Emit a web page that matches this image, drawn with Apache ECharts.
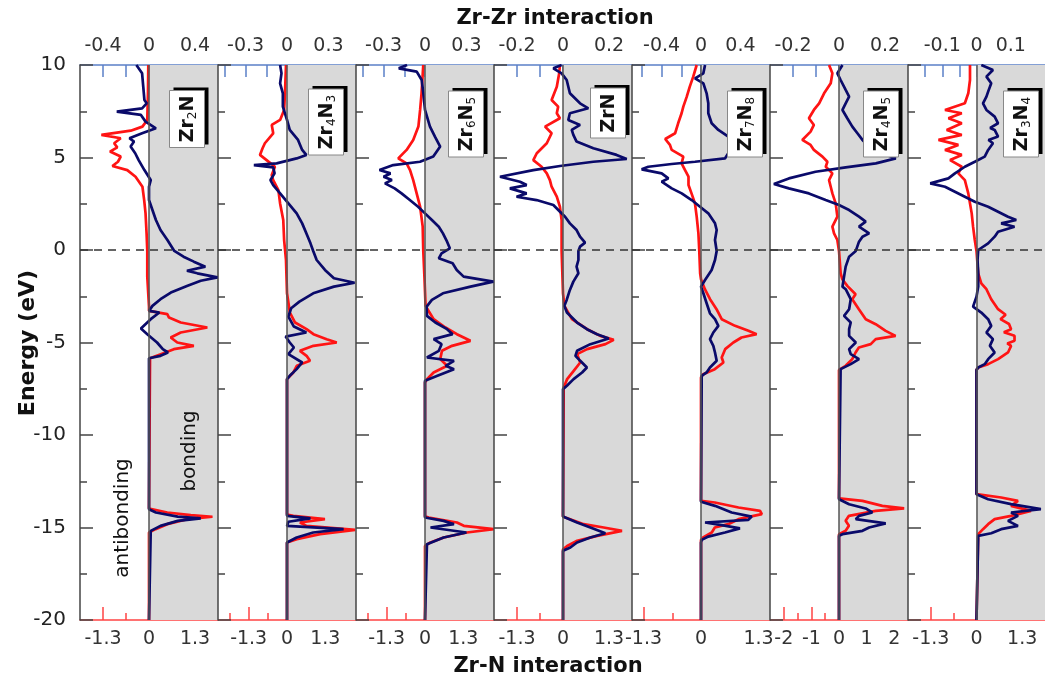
<!DOCTYPE html>
<html>
<head>
<meta charset="utf-8">
<script src="https://cdn.jsdelivr.net/npm/echarts@6/dist/echarts.min.js"></script>
<style>
html, body { margin: 0; background: #fff; }
#chart { width: 1045px; height: 680px; }
</style>
</head>
<body>
<div id="chart"></div>
<script>
// panels, left to right
var panelNames = ['{a|Zr}{s|2}{a|N}', '{a|Zr}{s|4}{a|N}{s|3}', '{a|Zr}{s|6}{a|N}{s|5}', '{a|ZrN}',
    '{a|Zr}{s|7}{a|N}{s|8}', '{a|Zr}{s|4}{a|N}{s|5}', '{a|Zr}{s|3}{a|N}{s|4}'];

// axis ranges (symmetric) and ticks
var zrZrRange = [0.6, 0.5, 0.5, 0.3, 0.7, 0.3, 0.2];
var zrNRange = [2, 2.4, 2.4, 2, 1.6, 2.5, 2];
var zrZrTicks = [
    [-0.4, -0.2, 0, 0.2, 0.4],
    [-0.45, -0.3, -0.15, 0, 0.15, 0.3, 0.45],
    [-0.45, -0.3, -0.15, 0, 0.15, 0.3, 0.45],
    [-0.2, -0.1, 0, 0.1, 0.2],
    [-0.6, -0.4, -0.2, 0, 0.2, 0.4, 0.6],
    [-0.2, -0.1, 0, 0.1, 0.2],
    [-0.15, -0.1, -0.05, 0, 0.05, 0.1, 0.15]
];
var zrZrLabels = [[-0.4, 0, 0.4], [-0.3, 0, 0.3], [-0.3, 0, 0.3], [-0.2, 0, 0.2], [-0.4, 0, 0.4], [-0.2, 0, 0.2], [-0.1, 0, 0.1]];
var zrNLabels = [
    [-4 / 3, 0, 4 / 3], [-4 / 3, 0, 4 / 3], [-4 / 3, 0, 4 / 3], [-4 / 3, 0, 4 / 3],
    [-4 / 3, 0, 4 / 3], [-2, -1, 0, 1, 2], [-4 / 3, 0, 4 / 3]
];
var zrNMinor = [
    [-2 / 3, 2 / 3], [-2, -2 / 3, 2 / 3, 2], [-2, -2 / 3, 2 / 3, 2], [-2 / 3, 2 / 3],
    [-2 / 3, 2 / 3], [-1.5, -0.5, 0.5, 1.5], [-2 / 3, 2 / 3]
];

// curves: [energy, value]
var zr2nZrZr = [[10,-0.11],[9.55,-0.06],[8.83,-0.05],[8.11,-0.04],[7.93,-0.02],[7.66,-0.06],[7.48,-0.28],[7.3,-0.07],[6.94,-0.03],[6.58,0.06],[6.31,-0.06],[6.04,-0.17],[5.86,-0.13],[5.59,-0.16],[5.23,-0.12],[4.86,-0.09],[4.32,-0.04],[3.78,0.015],[3.42,0],[2.7,0],[2.16,0.03],[1.62,0.06],[1.08,0.1],[0.54,0.16],[-0.05,0.22],[-0.36,0.3],[-0.63,0.39],[-0.9,0.49],[-1.12,0.33],[-1.26,0.42],[-1.48,0.595],[-1.66,0.45],[-1.94,0.33],[-2.3,0.19],[-2.66,0.1],[-3.02,0.03],[-3.29,0],[-3.38,0.09],[-3.74,0.015],[-4.24,-0.07],[-4.55,-0.015],[-5.0,0.07],[-5.36,0.12],[-5.54,0.165],[-5.72,0.1],[-5.85,0],[-14.01,0],[-14.19,0.06],[-14.41,0.25],[-14.51,0.45],[-14.64,0.25],[-14.91,0.1],[-15.18,0.015],[-15.27,0],[-20,0]];
var zr2nZrN = [[10,-0.02],[8.47,-0.03],[7.03,-0.05],[6.67,-0.19],[6.45,-0.53],[6.22,-1.38],[6.04,-0.82],[5.77,-1.01],[5.55,-0.92],[5.32,-1.13],[5.05,-0.82],[4.77,-0.9],[4.54,-1.06],[4.32,-0.63],[3.96,-0.39],[3.42,-0.19],[2.7,-0.14],[1.98,-0.1],[0.9,-0.07],[-0.05,-0.05],[-1.44,-0.05],[-3.06,0],[-3.29,0],[-3.47,0.53],[-3.65,0.58],[-3.92,0.92],[-4.19,1.69],[-4.46,0.92],[-4.73,0.63],[-5.0,0.82],[-5.18,1.3],[-5.36,0.72],[-5.63,0.34],[-5.85,0.03],[-5.9,0],[-13.97,0],[-14.19,0.53],[-14.33,1.21],[-14.42,1.84],[-14.55,1.11],[-14.82,0.53],[-15.09,0.19],[-15.27,0],[-20,0]];

var zr4n3ZrZr = [[10,-0.05],[9.55,-0.04],[9.01,-0.05],[8.47,-0.03],[7.75,-0.03],[7.03,0],[6.49,0.02],[5.95,0.08],[5.41,0.11],[5.14,0.14],[4.95,0.07],[4.68,-0.075],[4.59,-0.24],[4.47,-0.1],[4.14,-0.09],[3.78,-0.12],[3.51,-0.1],[3.06,-0.05],[2.52,0.01],[1.98,0.07],[1.44,0.11],[0.9,0.14],[0.36,0.17],[-0.05,0.19],[-0.54,0.215],[-1.08,0.275],[-1.53,0.34],[-1.77,0.49],[-1.98,0.34],[-2.34,0.19],[-2.79,0.09],[-3.15,0.03],[-3.6,0.01],[-4.14,0.05],[-4.46,0.14],[-4.68,-0.01],[-5.0,0.02],[-5.27,0.05],[-5.63,0.01],[-6.08,0.11],[-6.44,0.07],[-6.8,0.02],[-6.98,0],[-14.37,0],[-14.51,0.17],[-14.69,0.01],[-14.91,0],[-15.09,0.41],[-15.27,0.19],[-15.54,0.07],[-15.81,0],[-20,0]];
var zr4n3ZrN = [[10,-0.035],[8.47,-0.07],[7.57,-0.1],[7.03,-0.24],[6.76,-0.53],[6.31,-0.48],[5.77,-0.77],[5.5,-0.85],[5.14,-0.94],[4.86,-0.71],[4.5,-0.42],[4.05,-0.53],[3.78,-0.48],[3.24,-0.3],[2.52,-0.24],[1.62,-0.13],[0.54,-0.1],[-0.54,-0.035],[-2.34,0],[-3.38,0.1],[-3.92,0.28],[-4.28,0.68],[-4.55,0.92],[-4.82,1.38],[-5.0,1.73],[-5.18,0.92],[-5.45,0.45],[-5.72,0.68],[-5.99,0.8],[-6.26,0.34],[-6.62,0.22],[-6.98,0],[-14.3,0],[-14.37,0.22],[-14.55,1.32],[-14.73,0.45],[-14.91,0.68],[-15.13,2.37],[-15.36,1.15],[-15.63,0.34],[-15.81,0],[-20,0]];

var zr6n5ZrZr = [[10,-0.13],[9.82,-0.19],[9.64,-0.06],[9.19,-0.024],[8.47,-0.012],[7.57,0],[6.67,0.036],[6.13,0.072],[5.59,0.11],[5.32,0.085],[5.05,0.06],[4.77,-0.036],[4.59,-0.23],[4.32,-0.33],[4.14,-0.25],[3.96,-0.3],[3.78,-0.24],[3.6,-0.29],[3.33,-0.22],[3.06,-0.17],[2.7,-0.11],[2.34,-0.05],[1.98,0],[1.62,0.05],[1.26,0.1],[0.9,0.13],[0.45,0.16],[0.09,0.18],[-0.18,0.12],[-0.45,0.1],[-0.72,0.2],[-1.08,0.23],[-1.44,0.28],[-1.71,0.495],[-1.98,0.33],[-2.34,0.13],[-2.7,0.05],[-3.06,0.012],[-3.56,0.014],[-3.92,0.075],[-4.28,0.16],[-4.55,0.2],[-4.82,0.063],[-5.09,0.12],[-5.45,0.1],[-5.81,0.014],[-5.99,0.21],[-6.26,0.15],[-6.44,0.21],[-6.8,0.09],[-7.07,0],[-14.46,0],[-14.64,0.135],[-14.82,0.21],[-15.0,0.04],[-15.27,0.3],[-15.54,0.135],[-15.9,0.014],[-16.0,0],[-20,0]];
var zr6n5ZrN = [[10,-0.06],[8.47,-0.12],[7.57,-0.17],[6.67,-0.23],[5.95,-0.41],[5.41,-0.64],[4.95,-0.93],[4.68,-0.64],[4.32,-0.52],[3.78,-0.41],[3.06,-0.29],[2.34,-0.17],[1.26,-0.08],[-0.05,-0.06],[-1.44,-0.02],[-3.02,0.02],[-3.74,0.3],[-4.19,0.71],[-4.55,1.11],[-4.91,1.58],[-5.18,0.94],[-5.45,0.59],[-5.9,0.53],[-6.26,0.77],[-6.62,0.3],[-6.98,0.07],[-7.16,0],[-14.4,0],[-14.46,0.13],[-14.73,1.11],[-14.91,1.35],[-15.09,2.39],[-15.27,1.46],[-15.54,0.65],[-15.81,0.19],[-16.0,0],[-20,0]];

var zrnZrZr = [[10,-0.006],[9.82,-0.042],[9.55,-0.006],[9.19,0.016],[8.47,0.03],[7.93,0.074],[7.66,0.11],[7.39,0.03],[7.03,0.023],[6.76,0.074],[6.49,0.038],[6.22,0.045],[5.86,0.059],[5.5,0.132],[5.14,0.233],[4.92,0.277],[4.77,0.132],[4.54,-0.013],[4.32,-0.129],[3.96,-0.274],[3.69,-0.187],[3.51,-0.158],[3.33,-0.231],[3.06,-0.158],[2.88,-0.202],[2.7,-0.115],[2.43,-0.042],[2.07,-0.013],[1.8,0.009],[1.44,0.03],[1.08,0.059],[0.72,0.074],[0.4,0.096],[0.18,0.074],[-0.05,0.067],[-0.54,0.067],[-0.9,0.059],[-1.26,0.067],[-1.71,0.045],[-2.16,0.03],[-2.7,0.016],[-3.02,0.006],[-3.38,0.017],[-3.92,0.061],[-4.28,0.104],[-4.55,0.148],[-4.78,0.199],[-5.09,0.119],[-5.45,0.061],[-5.72,0.054],[-5.99,0.075],[-6.35,0.104],[-6.62,0.083],[-6.98,0.046],[-7.34,0.017],[-7.52,0],[-14.4,0],[-14.46,0.01],[-14.73,0.061],[-15.0,0.119],[-15.31,0.184],[-15.54,0.119],[-15.81,0.061],[-16.08,0.032],[-16.26,0],[-20,0]];
var zrnZrN = [[10,-0.09],[9.55,-0.11],[8.83,-0.18],[8.11,-0.33],[7.75,-0.14],[7.39,-0.18],[7.12,-0.09],[6.67,-0.52],[6.31,-0.33],[5.77,-0.47],[5.23,-0.76],[4.86,-0.86],[4.5,-0.62],[4.14,-0.47],[3.78,-0.38],[3.42,-0.33],[2.88,-0.18],[2.34,-0.09],[1.62,-0.04],[-0.05,-0.04],[-2.34,0],[-3.02,0.04],[-3.74,0.26],[-4.28,0.7],[-4.64,1.08],[-4.86,1.47],[-5.09,1.23],[-5.36,0.7],[-5.63,0.41],[-6.08,0.5],[-6.53,0.31],[-6.98,0.12],[-7.43,0.02],[-7.5,0],[-14.4,0],[-14.46,0.07],[-14.82,0.6],[-15.0,1.18],[-15.18,1.71],[-15.45,0.99],[-15.72,0.41],[-16.0,0.12],[-16.18,0],[-20,0]];

var zr7n8ZrZr = [[10,0.041],[9.55,0.024],[9.28,-0.061],[9.01,0.024],[8.47,0.057],[7.93,0.074],[7.39,0.074],[6.85,0.108],[6.49,0.176],[6.13,0.277],[5.77,0.294],[5.23,0.277],[4.95,0.243],[4.77,-0.061],[4.65,-0.297],[4.5,-0.534],[4.36,-0.602],[4.14,-0.399],[3.87,-0.331],[3.69,-0.399],[3.33,-0.297],[3.06,-0.196],[2.7,-0.095],[2.34,-0.01],[1.98,0.074],[1.44,0.142],[1.08,0.159],[0.54,0.142],[-0.05,0.159],[-0.54,0.142],[-1.08,0.108],[-1.62,0.041],[-1.98,0],[-2.34,0.024],[-2.88,0.057],[-3.42,0.091],[-3.74,0.142],[-4.1,0.176],[-4.46,0.125],[-4.82,0.091],[-5.18,0.125],[-5.54,0.142],[-5.99,0.159],[-6.35,0.091],[-6.62,0.057],[-6.8,0.007],[-6.89,0],[-13.61,0],[-13.83,0.142],[-14.19,0.311],[-14.41,0.514],[-14.59,0.48],[-14.73,0.041],[-14.87,0.21],[-15.05,0.395],[-15.27,0.243],[-15.49,0.074],[-15.67,0.007],[-15.81,0],[-20,0]];
var zr7n8ZrN = [[10,-0.1],[9.37,-0.18],[8.83,-0.26],[8.29,-0.33],[7.75,-0.41],[7.39,-0.45],[6.85,-0.53],[6.31,-0.6],[6.0,-0.83],[5.68,-0.72],[5.41,-0.68],[5.05,-0.41],[4.68,-0.45],[4.32,-0.37],[3.96,-0.29],[3.51,-0.29],[3.06,-0.22],[2.52,-0.14],[1.8,-0.1],[0.9,-0.06],[-0.05,-0.04],[-1.26,-0.02],[-1.58,0],[-2.12,0.09],[-2.66,0.21],[-3.2,0.36],[-3.74,0.48],[-4.1,0.79],[-4.37,1.1],[-4.55,1.29],[-4.73,0.94],[-5.0,0.75],[-5.36,0.56],[-5.81,0.48],[-6.08,0.52],[-6.44,0.32],[-6.71,0.05],[-6.89,0],[-13.56,0],[-13.65,0.32],[-13.92,0.87],[-14.1,1.37],[-14.28,1.41],[-14.55,0.87],[-14.82,0.63],[-15.0,0.32],[-15.27,0.25],[-15.54,0.05],[-15.67,0],[-20,0]];

var zr4n5ZrZr = [[10,0.015],[9.55,-0.007],[9.19,0.007],[8.65,0.029],[8.29,0.044],[7.93,0.029],[7.57,0.015],[7.12,0.036],[6.67,0.058],[6.31,0.08],[5.95,0.102],[5.59,0.131],[5.23,0.189],[4.95,0.247],[4.68,0.16],[4.47,0.029],[4.23,-0.102],[3.87,-0.218],[3.57,-0.283],[3.33,-0.218],[3.06,-0.131],[2.7,-0.058],[2.43,0],[2.16,0.044],[1.8,0.087],[1.53,0.116],[1.26,0.087],[0.9,0.131],[0.72,0.102],[0.45,0.087],[-0.05,0.073],[-0.36,0.044],[-0.9,0.029],[-1.44,0.022],[-1.98,0.015],[-2.12,0.029],[-2.66,0.051],[-3.2,0.044],[-3.56,0.022],[-3.92,0.051],[-4.28,0.044],[-4.64,0.044],[-5.0,0.073],[-5.36,0.044],[-5.63,0.051],[-5.9,0.087],[-6.17,0.051],[-6.44,0.007],[-6.53,0],[-13.47,0],[-13.74,0.044],[-13.97,0.116],[-14.19,0.145],[-14.37,0.087],[-14.55,0.073],[-14.78,0.203],[-15.0,0.131],[-15.18,0.102],[-15.36,0.015],[-15.45,0],[-20,0]];
var zr4n5ZrN = [[10,-0.36],[9.55,-0.24],[9.01,-0.3],[8.47,-0.54],[7.93,-0.72],[7.57,-0.91],[7.12,-1.09],[6.76,-0.91],[6.4,-1.03],[5.95,-1.33],[5.68,-1.03],[5.41,-0.91],[5.05,-0.6],[4.77,-0.42],[4.5,-0.48],[4.14,-0.24],[3.78,-0.36],[3.42,-0.3],[3.06,-0.24],[2.52,-0.12],[1.8,-0.06],[1.26,-0.24],[0.9,-0.18],[0.54,-0.06],[-0.05,0],[-1.26,0.06],[-1.58,0.12],[-1.94,0.3],[-2.39,0.6],[-2.66,0.48],[-3.2,0.72],[-3.74,0.97],[-4.01,1.33],[-4.37,1.69],[-4.64,2.05],[-4.82,1.33],[-5.09,1.15],[-5.27,0.72],[-5.54,0.6],[-5.9,0.48],[-6.26,0.24],[-6.48,0],[-13.43,0],[-13.56,0.85],[-13.83,1.57],[-13.97,2.36],[-14.1,1.33],[-14.37,0.36],[-14.64,0.24],[-14.91,0.36],[-15.18,0.24],[-15.36,0],[-20,0]];

var zr3n4ZrZr = [[10,0.014],[9.73,0.048],[9.37,0.029],[9.01,0.043],[8.56,0.034],[8.29,0.029],[7.93,0.019],[7.57,0.029],[7.21,0.053],[6.85,0.063],[6.6,0.04],[6.49,0.053],[6.13,0.063],[5.95,0.035],[5.77,0.048],[5.41,0.034],[5.05,0.024],[4.77,-0.005],[4.5,-0.034],[4.14,-0.063],[3.87,-0.082],[3.6,-0.135],[3.42,-0.092],[3.15,-0.063],[2.88,-0.034],[2.61,-0.005],[2.34,0.034],[2.07,0.063],[1.8,0.092],[1.62,0.116],[1.44,0.072],[1.26,0.111],[0.99,0.063],[0.72,0.053],[0.36,0.034],[0,0.005],[-0.54,0.003],[-1.26,0.005],[-1.98,0.005],[-2.52,0],[-3.06,-0.01],[-3.38,0.014],[-3.74,0.034],[-4.1,0.043],[-4.46,0.029],[-4.82,0.048],[-5.18,0.039],[-5.54,0.053],[-5.9,0.034],[-6.17,0.024],[-6.35,0.005],[-6.48,0],[-13.2,0],[-13.47,0.034],[-13.74,0.101],[-14.01,0.188],[-14.19,0.101],[-14.37,0.121],[-14.64,0.092],[-14.91,0.121],[-15.09,0.072],[-15.31,0.043],[-15.45,0.005],[-15.54,0],[-20,0]];
var zr3n4ZrN = [[10,-0.19],[9.19,-0.19],[8.47,-0.24],[7.93,-0.34],[7.57,-0.92],[7.39,-0.43],[7.12,-0.82],[6.85,-0.43],[6.49,-0.87],[6.22,-0.43],[5.95,-1.11],[5.68,-0.53],[5.41,-0.92],[5.14,-0.43],[4.86,-0.77],[4.5,-0.43],[4.14,-0.53],[3.78,-0.34],[3.42,-0.29],[3.06,-0.24],[2.52,-0.19],[1.98,-0.14],[1.26,-0.1],[0.54,-0.05],[-0.05,0],[-1.26,0.05],[-1.8,0.14],[-2.12,0.29],[-2.66,0.43],[-3.2,0.63],[-3.5,0.85],[-3.74,0.7],[-4.0,0.95],[-4.28,1.01],[-4.45,0.8],[-4.64,1.11],[-4.91,1.11],[-5.05,0.9],[-5.18,1.01],[-5.54,0.92],[-5.9,0.63],[-6.17,0.34],[-6.35,0.05],[-6.48,0],[-13.2,0],[-13.38,0.72],[-13.56,1.21],[-13.83,1.01],[-14.1,1.59],[-14.37,1.01],[-14.55,0.53],[-14.82,0.34],[-15.09,0.19],[-15.36,0.05],[-15.45,0],[-20,0]];

var zrZrData = [zr2nZrZr, zr4n3ZrZr, zr6n5ZrZr, zrnZrZr, zr7n8ZrZr, zr4n5ZrZr, zr3n4ZrZr];
var zrNData = [zr2nZrN, zr4n3ZrN, zr6n5ZrN, zrnZrN, zr7n8ZrN, zr4n5ZrN, zr3n4ZrN];

// label box layout (screen px): centre x, centre y, length
var boxLayout = [[187, 119, 57], [326, 122, 66], [466, 124, 66], [608, 113, 50], [745, 124, 66], [881, 124, 66], [1021, 124, 66]];

var NAVY = '#0a0a6a', RED = '#ff1414';
var TOPC = '#5b80c8', BOTC = '#ff4444', AXC = '#444';
var FONT = 'DejaVu Sans';
var PW = 138, PL = 80, PT = 65, PH = 555;

function fmt(v) {
    var r = Math.round(v * 10) / 10;
    return r === 0 ? '0' : String(r);
}

var grid = [], xAxis = [], yAxis = [], series = [], graphic = [];

for (var i = 0; i < 7; i++) {
    grid.push({ left: PL + PW * i, top: PT, width: PW, height: PH });
}
// overlay grids used only for the short ticks of the bottom axes
for (var i = 0; i < 7; i++) {
    grid.push({ left: PL + PW * i, top: PT, width: PW, height: PH });
}

for (var i = 0; i < 7; i++) {
    xAxis.push({
        type: 'value', gridIndex: i, position: 'bottom',
        min: -zrNRange[i], max: zrNRange[i],
        splitLine: { show: false },
        axisLine: { show: true, onZero: false, lineStyle: { color: BOTC, width: 1.5 } },
        axisTick: { show: true, inside: true, length: 13, customValues: zrNLabels[i], lineStyle: { color: BOTC, width: 1.5 } },
        axisLabel: { show: true, customValues: zrNLabels[i], formatter: fmt, color: '#333', fontSize: 19, fontFamily: FONT, margin: 10 }
    });
    xAxis.push({
        type: 'value', gridIndex: i, position: 'top',
        min: -zrZrRange[i], max: zrZrRange[i],
        splitLine: { show: false },
        axisLine: { show: true, onZero: false, lineStyle: { color: TOPC, width: 1.5 } },
        axisTick: { show: true, inside: true, length: 12, customValues: zrZrTicks[i], lineStyle: { color: TOPC, width: 1.5 } },
        axisLabel: { show: true, customValues: zrZrLabels[i], formatter: fmt, color: '#333', fontSize: 19, fontFamily: FONT, margin: 9 }
    });
    yAxis.push({
        type: 'value', gridIndex: i, min: -20, max: 10, interval: 5, z: 4,
        splitLine: { show: false },
        axisLine: { show: true, onZero: false, lineStyle: { color: AXC, width: 1.5 } },
        axisTick: { show: true, inside: true, length: 13, lineStyle: { color: AXC, width: 1.5 } },
        minorTick: { show: true, splitNumber: 2, length: 7, lineStyle: { color: AXC, width: 1.5 } },
        axisLabel: { show: i === 0, color: '#222', fontSize: 20, fontFamily: FONT, margin: 14 }
    });
}
for (var i = 0; i < 7; i++) {
    xAxis.push({
        type: 'value', gridIndex: 7 + i, position: 'bottom',
        min: -zrNRange[i], max: zrNRange[i],
        splitLine: { show: false },
        axisLine: { show: false, onZero: false },
        axisTick: { show: true, inside: true, length: 7, customValues: zrNMinor[i], lineStyle: { color: BOTC, width: 1.5 } },
        axisLabel: { show: false }
    });
    yAxis.push({ type: 'value', gridIndex: 7 + i, min: -20, max: 10, show: false });
}

var centred = { align: 'center', verticalAlign: 'middle', textAlign: 'center', textVerticalAlign: 'middle' };
function textStyle(extra) {
    return Object.assign({}, centred, extra);
}

for (var i = 0; i < 7; i++) {
    series.push({
        type: 'line', name: 'Zr-N', xAxisIndex: 2 * i, yAxisIndex: i,
        data: zrNData[i].map(function (p) { return [p[1], p[0]]; }),
        showSymbol: false, symbol: 'none', silent: true, z: 3,
        lineStyle: { color: RED, width: 2.7 },
        markArea: {
            silent: true,
            itemStyle: { color: '#d9d9d9' },
            data: [[{ xAxis: 0, yAxis: -20 }, { xAxis: zrNRange[i], yAxis: 10 }]]
        },
        markLine: {
            silent: true, symbol: ['none', 'none'], label: { show: false },
            data: [
                { xAxis: 0, lineStyle: { color: '#555', width: 1.5, type: 'solid' } },
                { yAxis: 0, lineStyle: { color: '#333', width: 1.5, type: [8, 6] } }
            ]
        }
    });
    series.push({
        type: 'line', name: 'Zr-Zr', xAxisIndex: 2 * i + 1, yAxisIndex: i,
        data: zrZrData[i].map(function (p) { return [p[1], p[0]]; }),
        showSymbol: false, symbol: 'none', silent: true, z: 4,
        lineStyle: { color: NAVY, width: 2.7 }
    });

    // label box: black offset shadow, white box, rotated text
    var b = boxLayout[i], bw = 35;
    graphic.push({
        type: 'rect', z: 100,
        shape: { x: b[0] - bw / 2 + 4, y: b[1] - b[2] / 2 - 3, width: bw, height: b[2] },
        style: { fill: '#000' }
    });
    graphic.push({
        type: 'rect', z: 101,
        shape: { x: b[0] - bw / 2, y: b[1] - b[2] / 2, width: bw, height: b[2] },
        style: { fill: '#fff', stroke: '#888', lineWidth: 1 }
    });
    graphic.push({
        type: 'text', z: 102, x: b[0] + 1, y: b[1], rotation: Math.PI / 2,
        style: textStyle({
            text: panelNames[i],
            rich: {
                a: { fontSize: 19, fontWeight: 'bold', fontFamily: FONT, fill: '#111', lineHeight: 22 },
                s: { fontSize: 12, fontFamily: FONT, fill: '#111', verticalAlign: 'bottom', lineHeight: 14 }
            }
        })
    });
}

graphic.push(
    { type: 'text', x: 555, y: 19, style: textStyle({ text: 'Zr-Zr interaction', font: 'bold 21px "DejaVu Sans"', fill: '#111' }) },
    { type: 'text', x: 548, y: 667, style: textStyle({ text: 'Zr-N interaction', font: 'bold 21px "DejaVu Sans"', fill: '#111' }) },
    { type: 'text', x: 28, y: 343, rotation: Math.PI / 2, style: textStyle({ text: 'Energy (eV)', font: 'bold 22px "DejaVu Sans"', fill: '#111' }) },
    { type: 'text', x: 123, y: 518, rotation: Math.PI / 2, z: 100, style: textStyle({ text: 'antibonding', font: '20px "DejaVu Sans"', fill: '#111' }) },
    { type: 'text', x: 190, y: 451, rotation: Math.PI / 2, z: 100, style: textStyle({ text: 'bonding', font: '20px "DejaVu Sans"', fill: '#111' }) }
);

var chart = echarts.init(document.getElementById('chart'));
chart.setOption({
    animation: false,
    backgroundColor: '#fff',
    grid: grid,
    xAxis: xAxis,
    yAxis: yAxis,
    series: series,
    graphic: graphic
});
</script>
</body>
</html>
